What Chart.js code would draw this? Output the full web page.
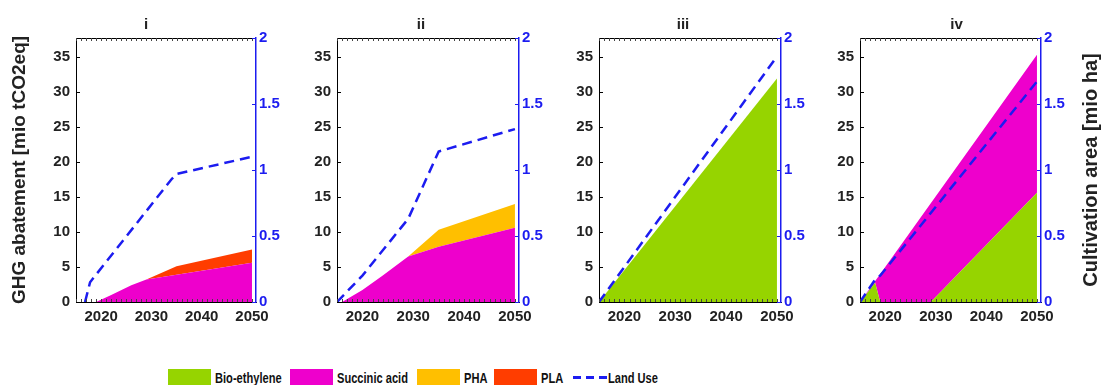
<!DOCTYPE html>
<html><head><meta charset="utf-8">
<script src="https://cdn.jsdelivr.net/npm/chart.js@4.4.1/dist/chart.umd.min.js"></script>
<style>
html,body{margin:0;padding:0;background:#fff;}
#wrap{position:relative;width:1103px;height:385px;overflow:hidden;background:#fff;}
canvas.p{position:absolute;top:0;}
#legend{position:absolute;left:0;top:369px;width:1103px;height:17px;font:bold 15px 'Liberation Sans',Arial,sans-serif;color:#111;white-space:nowrap;}
.it{position:absolute;top:0;height:17px;}
.sw{position:absolute;left:0;top:0;width:43px;height:17px;}
.dash{position:absolute;left:0;top:7px;width:34px;height:2.5px;background:repeating-linear-gradient(to right,#1c1cf0 0 8px,transparent 8px 13px);}
.tx{position:absolute;top:0;line-height:17px;transform:scaleX(0.74);transform-origin:0 50%;}
</style></head>
<body>
<div id="wrap">
<canvas class="p" id="c0"></canvas>
<canvas class="p" id="c1"></canvas>
<canvas class="p" id="c2"></canvas>
<canvas class="p" id="c3"></canvas>
<div id="legend"></div>
</div>
<script>
// ---------- DATA ----------
const panelTitles = ['i', 'ii', 'iii', 'iv'];
const seriesNames = ['Bio-ethylene', 'Succinic acid', 'PHA', 'PLA'];
const landUseName = 'Land Use';
const leftAxisTitle = 'GHG abatement [mio tCO2eq]';
const rightAxisTitle = 'Cultivation area [mio ha]';
const xTickLabels = [2020, 2030, 2040, 2050];
const ghgTicks = [0, 5, 10, 15, 20, 25, 30, 35];
const areaTicks = [0, 0.5, 1, 1.5, 2];
const ghgMax = 37.7;
const areaMax = 2;
const yearMin = 2015;
const yearMax = 2050.8;

// Panel i
const yearsI = [2015, 2019, 2022, 2026, 2029, 2035, 2050];
const succinicI = [0, 0, 1.0, 2.4, 3.2, 3.9, 5.6];
const plaI = [0, 0, 0, 0, 0, 1.2, 1.9];
const landYearsI = [2016.8, 2017.8, 2034, 2035, 2050];
const landUseI = [0, 0.15, 0.93, 0.97, 1.1];

// Panel ii
const yearsII = [2015, 2016, 2020, 2024, 2029, 2035, 2050];
const succinicII = [0, 0, 1.7, 3.8, 6.5, 7.9, 10.6];
const phaII = [0, 0, 0, 0, 0, 2.4, 3.4];
const landYearsII = [2015, 2020, 2029, 2035, 2050];
const landUseII = [0, 0.2, 0.63, 1.14, 1.31];

// Panel iii
const yearsIII = [2015, 2050];
const bioethyleneIII = [0, 31.9];
const landYearsIII = [2015, 2050];
const landUseIII = [0, 1.86];

// Panel iv
const yearsIV = [2015, 2018, 2019, 2029, 2050];
const bioethyleneIV = [0, 2.75, 0, 0, 15.6];
const succinicIV = [0, 0.25, 4.0, 14.1, 19.7];
const landYearsIV = [2015, 2018, 2019, 2050];
const landUseIV = [0, 0.17, 0.2, 1.67];

// ---------- STYLE ----------
const seriesColors = ['#96d400', '#ee00cc', '#ffbf00', '#ff3d00'];
const landColor = '#1c1cf0';
const textColor = '#222';
const tickFont = {family: "'Liberation Sans', Arial, sans-serif", size: 15, weight: 'bold'};

const panels = [
  {years: yearsI, series: [null, succinicI, null, plaI], landYears: landYearsI, land: landUseI},
  {years: yearsII, series: [null, succinicII, phaII, null], landYears: landYearsII, land: landUseII},
  {years: yearsIII, series: [bioethyleneIII, null, null, null], landYears: landYearsIII, land: landUseIII},
  {years: yearsIV, series: [bioethyleneIV, succinicIV, null, null], landYears: landYearsIV, land: landUseIV}
];
const geo = [
  {left: 0, lw: 76, w: 180, rw: 36},
  {left: 287, lw: 50, w: 182, rw: 36},
  {left: 549, lw: 50, w: 182, rw: 36},
  {left: 810, lw: 50, w: 181, rw: 62}
];
const H = 340;
const legendX = [168, 290, 417, 494, 573];

const frame = {
  id: 'frame',
  afterDraw(chart) {
    const {ctx, chartArea: a, scales} = chart;
    const xs = scales.x, ys = scales.y, y1 = scales.y1;
    ctx.save();
    ctx.strokeStyle = '#000';
    ctx.lineWidth = 1;
    ctx.beginPath();
    ctx.moveTo(a.left, a.top + 0.5); ctx.lineTo(a.right, a.top + 0.5);
    ctx.stroke();
    ctx.strokeStyle = '#444';
    ctx.beginPath();
    for (let yr = Math.ceil(xs.min); yr <= Math.floor(xs.max); yr++) {
      const px = Math.round(xs.getPixelForValue(yr)) + 0.5;
      ctx.moveTo(px, a.top); ctx.lineTo(px, a.top + 3);
      ctx.moveTo(px, a.bottom); ctx.lineTo(px, a.bottom - 3);
    }
    ctx.stroke();
    ctx.strokeStyle = '#000';
    ctx.beginPath();
    ghgTicks.forEach(v => {
      const py = Math.round(ys.getPixelForValue(v)) + 0.5;
      ctx.moveTo(a.left, py); ctx.lineTo(a.left + 4, py);
    });
    ctx.stroke();
    ctx.strokeStyle = landColor;
    ctx.beginPath();
    areaTicks.forEach(v => {
      const py = Math.round(y1.getPixelForValue(v)) + 0.5;
      ctx.moveTo(a.right, py); ctx.lineTo(a.right - 4, py);
    });
    ctx.stroke();
    if (chart.options.plugins.frame && chart.options.plugins.frame.rightTitle) {
      ctx.fillStyle = textColor;
      ctx.font = "bold 20px 'Liberation Sans', Arial, sans-serif";
      ctx.textAlign = 'center';
      ctx.textBaseline = 'middle';
      ctx.translate(chart.width - 11.5, (a.top + a.bottom) / 2);
      ctx.rotate(-Math.PI / 2);
      ctx.fillText(chart.options.plugins.frame.rightTitle, 0, 0);
    }
    ctx.restore();
  }
};

panels.forEach((p, k) => {
  const g = geo[k];
  const cv = document.getElementById('c' + k);
  cv.width = g.lw + g.w + g.rw;
  cv.height = H;
  cv.style.left = g.left + 'px';
  const datasets = [];
  let first = true;
  p.series.forEach((vals, si) => {
    if (!vals) return;
    datasets.push({
      label: seriesNames[si],
      data: p.years.map((yr, i) => ({x: yr, y: vals[i]})),
      backgroundColor: seriesColors[si],
      borderColor: seriesColors[si],
      borderWidth: 0,
      pointRadius: 0,
      fill: first ? 'origin' : '-1',
      yAxisID: 'y',
      order: 2
    });
    first = false;
  });
  datasets.push({
    label: landUseName,
    data: p.landYears.map((yr, i) => ({x: yr, y: p.land[i]})),
    borderColor: landColor,
    borderWidth: 2.5,
    borderDash: [10, 6],
    pointRadius: 0,
    fill: false,
    yAxisID: 'y1',
    order: 1
  });
  new Chart(cv, {
    type: 'line',
    data: {datasets},
    options: {
      responsive: false,
      animation: false,
      events: [],
      layout: {padding: 0},
      elements: {line: {tension: 0}},
      plugins: {
        legend: {display: false},
        tooltip: {enabled: false},
        title: {display: true, text: panelTitles[k], color: textColor, font: {family: tickFont.family, size: 15, weight: 'bold', lineHeight: 1.2}, padding: {top: 16, bottom: 4}},
        frame: {rightTitle: k === 3 ? rightAxisTitle : null}
      },
      scales: {
        x: {
          type: 'linear', min: yearMin, max: yearMax,
          afterBuildTicks: s => { s.ticks = xTickLabels.map(v => ({value: v})); },
          afterFit: s => { s.height = 38; },
          grid: {display: false, drawTicks: false},
          border: {display: true, color: '#000', width: 1},
          ticks: {color: textColor, font: tickFont, padding: 6, maxRotation: 0, autoSkip: false, callback: v => String(v)}
        },
        y: {
          type: 'linear', position: 'left', stacked: true, min: 0, max: ghgMax,
          afterBuildTicks: s => { s.ticks = ghgTicks.map(v => ({value: v})); },
          afterFit: s => { s.width = g.lw; },
          grid: {display: false, drawTicks: false},
          border: {display: true, color: '#000', width: 1},
          ticks: {color: textColor, font: tickFont, padding: 6, autoSkip: false, callback: v => String(v)},
          title: {display: k === 0, text: leftAxisTitle, color: textColor, font: {family: tickFont.family, size: 19, weight: 'bold', lineHeight: 1.2}, padding: {top: 8, bottom: 0}}
        },
        y1: {
          type: 'linear', position: 'right', min: 0, max: areaMax,
          afterBuildTicks: s => { s.ticks = areaTicks.map(v => ({value: v})); },
          afterFit: s => { s.width = g.rw; },
          grid: {display: false, drawTicks: false},
          border: {display: true, color: landColor, width: 1.5},
          ticks: {color: landColor, font: tickFont, padding: 3, autoSkip: false, callback: v => String(v)}
        }
      }
    },
    plugins: [frame]
  });
});

// ---------- LEGEND ----------
const lg = document.getElementById('legend');
seriesNames.forEach((n, i) => {
  const it = document.createElement('div'); it.className = 'it'; it.style.left = legendX[i] + 'px';
  const sw = document.createElement('div'); sw.className = 'sw'; sw.style.background = seriesColors[i];
  const tx = document.createElement('span'); tx.className = 'tx'; tx.style.left = '47px'; tx.textContent = n;
  it.appendChild(sw); it.appendChild(tx); lg.appendChild(it);
});
const itL = document.createElement('div'); itL.className = 'it'; itL.style.left = legendX[4] + 'px';
const ds = document.createElement('div'); ds.className = 'dash';
const tl = document.createElement('span'); tl.className = 'tx'; tl.style.left = '35px'; tl.textContent = landUseName;
itL.appendChild(ds); itL.appendChild(tl); lg.appendChild(itL);
</script>
</body></html>
